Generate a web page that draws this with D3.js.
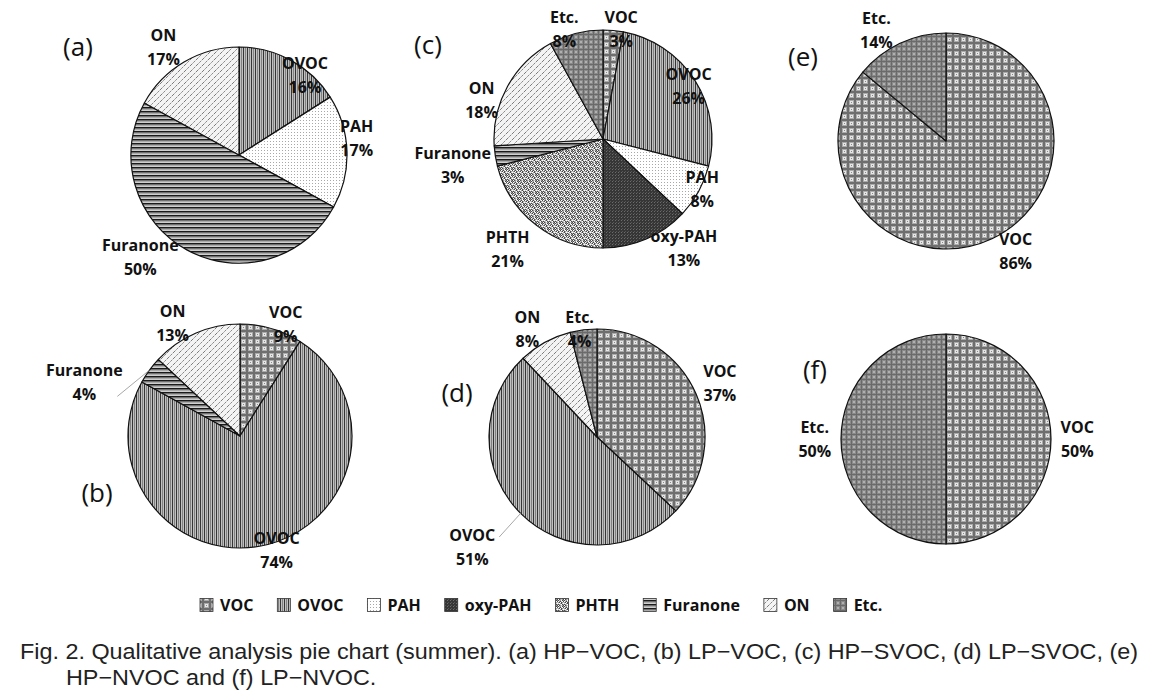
<!DOCTYPE html>
<html><head><meta charset="utf-8">
<script src="https://cdn.jsdelivr.net/npm/d3@7/dist/d3.min.js"></script>
<style>body{margin:0;background:#fff}svg{display:block}</style>
</head><body><svg id="chart"></svg>
<script>
// ---------------- data ----------------
const catsA = ["OVOC", "PAH", "Furanone", "ON"];
const valsA = [16, 17, 50, 17];
const catsB = ["VOC", "OVOC", "Furanone", "ON"];
const valsB = [9, 74, 4, 13];
const catsC = ["VOC", "OVOC", "PAH", "oxy-PAH", "PHTH", "Furanone", "ON", "Etc."];
const valsC = [3, 26, 8, 13, 21, 3, 18, 8];
const catsD = ["VOC", "OVOC", "ON", "Etc."];
const valsD = [37, 51, 8, 4];
const catsE = ["VOC", "Etc."];
const valsE = [86, 14];
const catsF = ["VOC", "Etc."];
const valsF = [50, 50];
const legendCats = ["VOC", "OVOC", "PAH", "oxy-PAH", "PHTH", "Furanone", "ON", "Etc."];
const panelTags = ["(a)", "(b)", "(c)", "(d)", "(e)", "(f)"];
const captionLines = [
  "Fig. 2. Qualitative analysis pie chart (summer). (a) HP\u2212VOC, (b) LP\u2212VOC, (c) HP\u2212SVOC, (d) LP\u2212SVOC, (e)",
  "HP\u2212NVOC and (f) LP\u2212NVOC."
];

// ---------------- layout (positions / styles) ----------------
const W = 1154, H = 698;
const panels = [
  {cats: catsA, vals: valsA, cx: 239, cy: 155, r: 108, tag: [78, 47],
   lab: [[10.7, 0.96], [-6, 1.10], [15, 1.32], [-4.4, 1.22]]},
  {cats: catsB, vals: valsB, cx: 240, cy: 436, r: 112, tag: [97, 493],
   lab: [[6, 1.08], [-3.4, 1.07], [-17, 1.47], [-7.6, 1.17]], leader: {i: 2, off: [33, 14]}},
  {cats: catsC, vals: valsC, cx: 603, cy: 139, r: 109, tag: [428, 45],
   lab: [[4, 1.02], [1, 0.92], [-2, 1.02], [-13, 1.25], [3, 1.34], [-1, 1.40], [-11, 1.17], [-5, 1.07]]},
  {cats: catsD, vals: valsD, cx: 597, cy: 437, r: 108, tag: [457, 393],
   lab: [[0, 1.24], [3.6, 1.54], [-4, 1.19], [-2, 1.01]], leader: {i: 1, off: [27, -10]}},
  {cats: catsE, vals: valsE, cx: 946, cy: 141, r: 108, tag: [803, 57],
   lab: [[-7, 1.21], [-7, 1.21]]},
  {cats: catsF, vals: valsF, cx: 946, cy: 439, r: 105, tag: [815, 370],
   lab: [[0, 1.25], [0, 1.25]]}
];

const svg = d3.select("#chart").attr("width", W).attr("height", H);
svg.append("rect").attr("width", W).attr("height", H).attr("fill", "#fff");
const defs = svg.append("defs");

function pat(id, w, h, draw) {
  const p = defs.append("pattern").attr("id", id).attr("patternUnits", "userSpaceOnUse")
    .attr("width", w).attr("height", h);
  draw(p);
}
function rect(p, x, y, w, h, c) {
  p.append("rect").attr("x", x).attr("y", y).attr("width", w).attr("height", h).attr("fill", c);
}
pat("p-VOC", 7, 7, p => {
  rect(p, 0, 0, 7, 7, "#6e6e6e");
  rect(p, 1, 1, 5, 5, "#aaaaaa");
  rect(p, 2, 2, 3, 3, "#e6e6e6");
  rect(p, 3, 3, 1, 1, "#8a8a8a");
});
pat("p-OVOC", 4, 4, p => {
  rect(p, 0, 0, 4, 4, "#c0c0c0");
  rect(p, 0, 0, 1, 4, "#353535");
  rect(p, 2, 0, 1, 4, "#808080");
});
pat("p-PAH", 3, 3, p => {
  rect(p, 0, 0, 3, 3, "#ffffff");
  rect(p, 1, 1, 1, 1, "#a8a8a8");
});
pat("p-oxy-PAH", 3, 3, p => {
  rect(p, 0, 0, 3, 3, "#363636");
  rect(p, 0, 0, 1, 1, "#6c6c6c");
  rect(p, 1, 2, 1, 1, "#555555");
});
const phthGrid = ["dlgwdg", "wgdlwd", "gdwdgl", "lwgdlw", "dglwdg", "wdglgd"];
const phthCol = {d: "#4a4a4a", g: "#9a9a9a", l: "#cfcfcf", w: "#ffffff"};
pat("p-PHTH", 6, 6, p => {
  phthGrid.forEach((row, y) => row.split("").forEach((ch, x) => rect(p, x, y, 1, 1, phthCol[ch])));
});
pat("p-Furanone", 4, 4, p => {
  rect(p, 0, 0, 4, 4, "#f4f4f4");
  rect(p, 0, 0, 4, 1.6, "#1a1a1a");
  rect(p, 0, 2.4, 4, 0.9, "#7a7a7a");
});
pat("p-ON", 6, 6, p => {
  rect(p, 0, 0, 6, 6, "#f4f4f4");
  p.append("path").attr("d", "M0,6 L6,0 M-3,3 L3,-3 M3,9 L9,3")
    .attr("stroke", "#6e6e6e").attr("stroke-width", 0.9).attr("stroke-dasharray", "2.2 1.1").attr("fill", "none");
});
pat("p-Etc.", 5, 5, p => {
  rect(p, 0, 0, 5, 5, "#8a8a8a");
  rect(p, 0, 0, 5, 1, "#6a6a6a");
  rect(p, 0, 0, 1, 5, "#6a6a6a");
  rect(p, 2, 2, 2, 2, "#b0b0b0");
});
const fillOf = c => `url(#p-${c})`;

const LABEL_FONT = "'Open Sans', Lato, sans-serif";
const LABEL_SIZE = 16;
const pie = d3.pie().sort(null).value(d => d.v);

panels.forEach((P, pi) => {
  const data = P.cats.map((c, i) => ({c, v: P.vals[i], i}));
  const arcs = pie(data);
  const g = svg.append("g").attr("transform", `translate(${P.cx},${P.cy})`);
  const arc = d3.arc().innerRadius(0).outerRadius(P.r);
  g.selectAll("path.slice").data(arcs).join("path").attr("class", "slice")
    .attr("d", arc).attr("fill", d => fillOf(d.data.c))
    .attr("stroke", "#111").attr("stroke-width", 1.2).attr("stroke-linejoin", "round");

  // leader line
  if (P.leader) {
    const a = arcs[P.leader.i];
    const mid = (a.startAngle + a.endAngle) / 2;
    const pOn = d3.arc().innerRadius(P.r).outerRadius(P.r).startAngle(mid).endAngle(mid).centroid();
    const adj = P.lab[P.leader.i];
    const la = mid + adj[0] * Math.PI / 180;
    const lp = d3.arc().innerRadius(P.r * adj[1]).outerRadius(P.r * adj[1]).startAngle(la).endAngle(la).centroid();
    g.append("line").attr("x1", pOn[0]).attr("y1", pOn[1])
      .attr("x2", lp[0] + P.leader.off[0]).attr("y2", lp[1] + P.leader.off[1])
      .attr("stroke", "#a8a8a8").attr("stroke-width", 1);
  }

  // labels
  arcs.forEach((a, i) => {
    const mid = (a.startAngle + a.endAngle) / 2;
    const adj = P.lab[i];
    const la = mid + adj[0] * Math.PI / 180;
    const rr = P.r * adj[1];
    const pos = d3.arc().innerRadius(rr).outerRadius(rr).startAngle(la).endAngle(la).centroid();
    const t = g.append("text").attr("text-anchor", "middle")
      .attr("font-family", LABEL_FONT).attr("font-weight", 700).attr("font-size", LABEL_SIZE).attr("fill", "#111");
    t.append("tspan").attr("x", pos[0]).attr("y", pos[1] - 12).attr("dy", "0.35em").text(a.data.c);
    t.append("tspan").attr("x", pos[0]).attr("y", pos[1] + 12).attr("dy", "0.35em").text(a.data.v + "%");
  });

  svg.append("text").attr("x", P.tag[0]).attr("y", P.tag[1]).attr("dy", "0.35em")
    .attr("text-anchor", "middle").attr("font-family", "'Open Sans', Lato, sans-serif")
    .attr("font-size", 26).attr("fill", "#111").text(panelTags[pi]);
});

// legend
const leg = svg.append("g");
let lx = 200;
const ly = 605, sw = 13;
legendCats.forEach(c => {
  leg.append("rect").attr("x", lx).attr("y", ly - sw / 2).attr("width", sw).attr("height", sw)
    .attr("fill", fillOf(c)).attr("stroke", "#333").attr("stroke-width", 0.8);
  const t = leg.append("text").attr("x", lx + sw + 7).attr("y", ly).attr("dy", "0.35em")
    .attr("font-family", LABEL_FONT).attr("font-weight", 700).attr("font-size", LABEL_SIZE).attr("fill", "#111").text(c);
  lx += sw + 7 + t.node().getComputedTextLength() + 24;
});

// caption
const capFont = "'Liberation Sans Narrow', 'Liberation Sans', Arial, sans-serif";
const c1 = svg.append("text").attr("x", 20).attr("y", 659).attr("font-family", capFont)
  .attr("font-size", 22).attr("fill", "#222").text(captionLines[0]);
const c2 = svg.append("text").attr("x", 66).attr("y", 685).attr("font-family", capFont)
  .attr("font-size", 22).attr("fill", "#222").text(captionLines[1]);
const n1 = c1.node().getComputedTextLength();
const n2 = c2.node().getComputedTextLength();
const scale = 1118 / n1;
c1.attr("textLength", 1118).attr("lengthAdjust", "spacingAndGlyphs");
c2.attr("textLength", n2 * scale).attr("lengthAdjust", "spacingAndGlyphs");
</script></body></html>
